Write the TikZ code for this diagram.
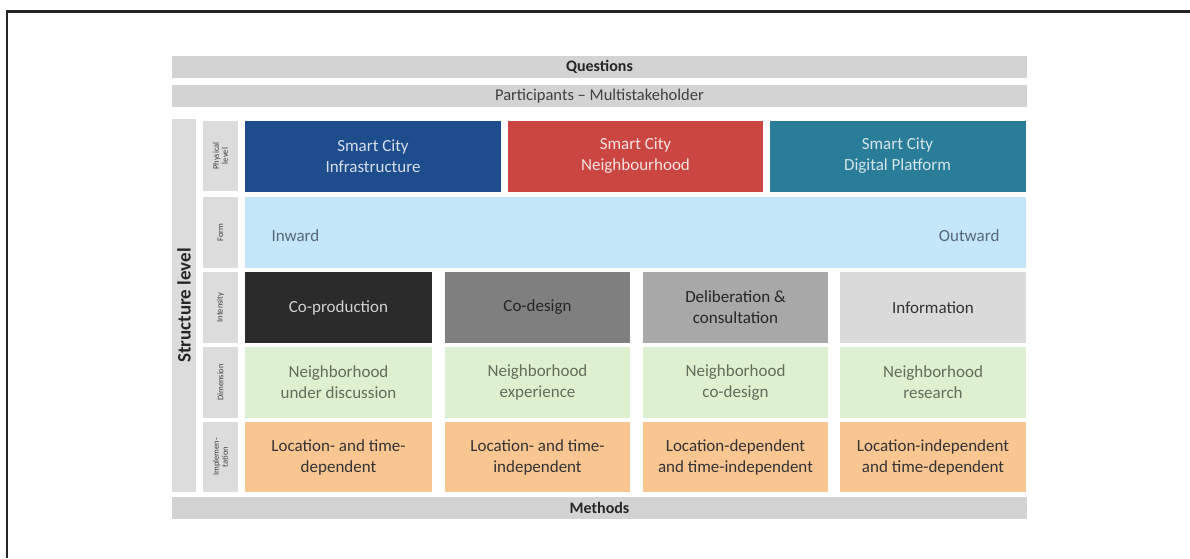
\documentclass[tikz,border=0pt]{standalone}
\usepackage{xcolor}
\usepackage{fontspec}
\setmainfont{Carlito}
\usepackage{tikz}
\usetikzlibrary{positioning}
\definecolor{barg}{HTML}{D3D3D3}
\definecolor{sideg}{HTML}{DCDCDC}
\definecolor{infra}{HTML}{1E4D8E}
\definecolor{neigh}{HTML}{CB4541}
\definecolor{digit}{HTML}{2A7D99}
\definecolor{formb}{HTML}{C3E6F8}
\definecolor{formt}{HTML}{56687A}
\definecolor{int1}{HTML}{2B2B2B}
\definecolor{int2}{HTML}{7F7F7F}
\definecolor{int3}{HTML}{A8A8A8}
\definecolor{int4}{HTML}{DADADA}
\definecolor{dimg}{HTML}{DDF0CF}
\definecolor{impo}{HTML}{F9C692}
\tikzset{
    bar/.style = {fill=barg, minimum width=855pt, minimum height=22pt, inner sep=0pt, font=\fontsize{16}{19}\selectfont\bfseries, text=black!85},
    sidelab/.style = {fill=sideg, rotate=90, align=center, inner sep=0pt, minimum height=35pt, font=\fontsize{8.5}{9}\selectfont, text=black!75},
    cell/.style = {align=center, inner sep=0pt, minimum height=71pt, font=\fontsize{17}{21}\selectfont},
}

\begin{document}
\begin{tikzpicture}[x=1pt, y=-1pt]
\tikzset{
    phys/.style = {cell, minimum width=256pt, text=white!85!blue},
    quad/.style = {cell, minimum width=186pt},
}
\useasboundingbox (0,0) rectangle (1190,558);
\draw[line width=2.2pt, black!85] (7,558) -- (7,11.5) -- (1190,11.5);

\node[bar] at (599.5,67) (questions) {Questions};
\node[bar, font=\fontsize{16.5}{19}\selectfont, text=black!75] at (599.5,96) (partic) {Participants -- Multistakeholder};
\node[bar] at (599.5,508) (methods) {Methods};

\node[fill=sideg, rotate=90, minimum width=373pt, minimum height=24pt, inner sep=0pt, font=\fontsize{19}{22}\selectfont\bfseries, text=black!85] at (184,305.5) (struct) {Structure level};

\node[sidelab, minimum width=70pt] at (220.5,156) (lphys) {Physical\\level};
\node[sidelab, minimum width=71pt] at (220.5,232.5) (lform) {Form};
\node[sidelab, minimum width=71pt] at (220.5,307.5) (lint) {Intensity};
\node[sidelab, minimum width=71pt] at (220.5,382.5) (ldim) {Dimension};
\node[sidelab, minimum width=70pt] at (220.5,457) (limp) {Implemen-\\tation};

\node[phys, fill=infra, text=white!82!infra] at (373,156) (infra) {Smart City\\Infrastructure};
\node[phys, fill=neigh, minimum width=255pt, text=white!85!neigh] at (635.5,156) (neigh) {Smart City\\Neighbourhood};
\node[phys, fill=digit, text=white!80!digit] at (897.5,156) (digit) {Smart City\\Digital Platform};

\node[cell, fill=formb, minimum width=781pt] at (635.5,232.5) (form) {};
\node[font=\fontsize{17}{21}\selectfont, text=formt, anchor=west] at (268,236) (inward) {Inward};
\node[font=\fontsize{17}{21}\selectfont, text=formt, anchor=east] at (1003,236) (outward) {Outward};

\node[quad, fill=int1, minimum width=187pt, text=black!18] at (338.5,307.5) (coprod) {Co-production};
\node[quad, fill=int2, minimum width=185pt, text=black!85] at (537.5,307.5) (codes) {Co-design};
\node[quad, fill=int3, minimum width=185pt, text=black!85] at (735.5,307.5) (delib) {Deliberation \&\\consultation};
\node[quad, fill=int4, text=black!80] at (933,307.5) (inform) {Information};

\node[quad, fill=dimg, minimum width=187pt, text=dimg!45!black] at (338.5,382.5) (ndisc) {Neighborhood\\under discussion};
\node[quad, fill=dimg, minimum width=185pt, text=dimg!45!black] at (537.5,382.5) (nexp) {Neighborhood\\experience};
\node[quad, fill=dimg, minimum width=185pt, text=dimg!45!black] at (735.5,382.5) (ncod) {Neighborhood\\co-design};
\node[quad, fill=dimg, text=dimg!45!black] at (933,382.5) (nres) {Neighborhood\\research};

\node[quad, fill=impo, minimum width=187pt, minimum height=70pt, text=black!80] at (338.5,457) (ltd) {Location- and time-\\dependent};
\node[quad, fill=impo, minimum width=185pt, minimum height=70pt, text=black!80] at (537.5,457) (lti) {Location- and time-\\independent};
\node[quad, fill=impo, minimum width=185pt, minimum height=70pt, text=black!80] at (735.5,457) (ldti) {Location-dependent\\and time-independent};
\node[quad, fill=impo, minimum height=70pt, text=black!80] at (933,457) (litd) {Location-independent\\and time-dependent};
\end{tikzpicture}
\end{document}
